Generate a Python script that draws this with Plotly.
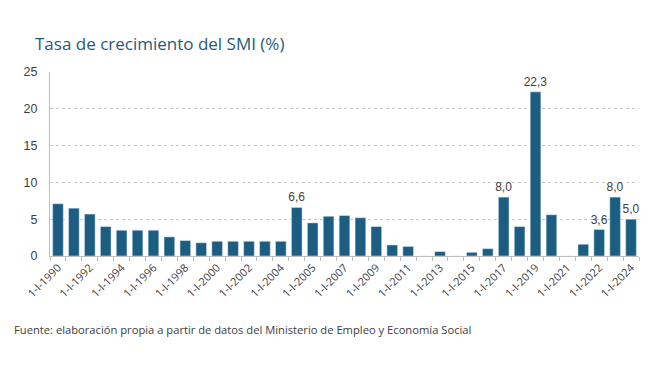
import plotly.graph_objects as go

categories = [
    "1-I-1990", "1-I-1991", "1-I-1992", "1-I-1993", "1-I-1994", "1-I-1995",
    "1-I-1996", "1-I-1997", "1-I-1998", "1-I-1999", "1-I-2000", "1-I-2001",
    "1-I-2002", "1-I-2003", "1-I-2004", "1-VII-2004", "1-I-2005", "1-I-2006",
    "1-I-2007", "1-I-2008", "1-I-2009", "1-I-2010", "1-I-2011", "1-I-2012",
    "1-I-2013", "1-I-2014", "1-I-2015", "1-I-2016", "1-I-2017", "1-I-2018",
    "1-I-2019", "1-I-2020", "1-I-2021", "1-IX-2021", "1-I-2022", "1-I-2023",
    "1-I-2024",
]
values = [
    7.1, 6.5, 5.7, 4.0, 3.5, 3.5,
    3.5, 2.6, 2.1, 1.8, 2.0, 2.0,
    2.0, 2.0, 2.0, 6.6, 4.5, 5.4,
    5.5, 5.2, 4.0, 1.5, 1.3, 0.0,
    0.6, 0.0, 0.5, 1.0, 8.0, 4.0,
    22.3, 5.6, 0.0, 1.6, 3.6, 8.0,
    5.0,
]
labelled = {"1-VII-2004", "1-I-2017", "1-I-2019", "1-I-2022", "1-I-2023", "1-I-2024"}
tick_labels = [c if i % 2 == 0 else "" for i, c in enumerate(categories)]
y_ticks = [0, 5, 10, 15, 20, 25]

texts = [f"{v:.1f}".replace(".", ",") if c in labelled else "" for c, v in zip(categories, values)]

fig = go.Figure(go.Bar(
    x=categories, y=values, marker_color="#1b5e82",
    text=texts, textposition="outside", cliponaxis=False, constraintext="none",
    textfont=dict(family="Liberation Sans, Arial", size=12, color="#404040"),
))

fig.update_layout(
    width=659, height=371,
    margin=dict(l=42, r=28, t=64, b=123, autoexpand=False),
    plot_bgcolor="white", paper_bgcolor="white",
    bargap=0.33, showlegend=False,
    separators=",.",
    font=dict(family="Liberation Sans, Arial", size=12, color="#404040"),
)
fig.update_xaxes(
    type="category", tickmode="array", tickvals=categories, ticktext=tick_labels,
    tickangle=-45, tickson="boundaries", ticks="outside", ticklen=4,
    tickcolor="#bfbfbf", showline=True, linecolor="#bfbfbf", linewidth=1,
    automargin=False,
    tickfont=dict(family="Open Sans, Noto Sans", size=11, color="#404040"),
)
fig.update_yaxes(
    range=[0, 25], tickvals=y_ticks, showgrid=True, gridcolor="#c8c8c8",
    griddash="dot", showline=True, linecolor="#bfbfbf", linewidth=1,
    zeroline=False, ticks="", ticklabelstandoff=9, automargin=False,
    tickfont=dict(family="Liberation Sans, Arial", size=12.5, color="#404040"),
)
fig.add_annotation(
    text="Tasa de crecimiento del SMI (%)", xref="paper", yref="paper",
    x=-0.029, y=1.0, xanchor="left", yanchor="bottom", yshift=15, showarrow=False,
    font=dict(family="Open Sans, Noto Sans", size=17, color="#1f5a78"),
)
fig.add_annotation(
    text="Fuente: elaboración propia a partir de datos del Ministerio de Empleo y Economía Social",
    xref="paper", yref="paper", x=-0.0645, y=0, xanchor="left", yanchor="middle",
    yshift=-73, showarrow=False,
    font=dict(family="Open Sans, Noto Sans", size=11.2, color="#404040"),
)
fig.write_html("out.html")
